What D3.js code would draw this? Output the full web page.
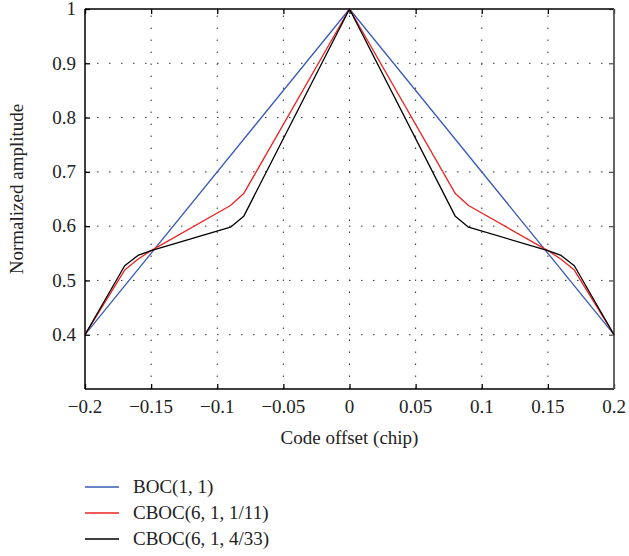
<!DOCTYPE html>
<html><head><meta charset="utf-8">
<script src="https://cdn.jsdelivr.net/npm/d3@7"></script>
<style>body{margin:0;background:#fff}svg{display:block}
text{font-family:"Liberation Serif","Times New Roman","DejaVu Serif",serif;}</style>
</head><body><svg id="c" width="629" height="556"></svg>
<script>
const xTicks = [-0.2, -0.15, -0.1, -0.05, 0, 0.05, 0.1, 0.15, 0.2];
const xTickLabels = ["\u22120.2", "\u22120.15", "\u22120.1", "\u22120.05", "0", "0.05", "0.1", "0.15", "0.2"];
const yTicks = [0.4, 0.5, 0.6, 0.7, 0.8, 0.9, 1];
const yTickLabels = ["0.4", "0.5", "0.6", "0.7", "0.8", "0.9", "1"];

const bocX = [-0.2, 0, 0.2];
const bocY = [0.4, 1, 0.4];
const cboc11X = [-0.2, -0.17, -0.16, -0.15, -0.09, -0.08, 0, 0.08, 0.09, 0.15, 0.16, 0.17, 0.2];
const cboc11Y = [0.4, 0.519, 0.539, 0.555, 0.638, 0.66, 1, 0.66, 0.638, 0.555, 0.539, 0.519, 0.4];
const cboc33X = [-0.2, -0.17, -0.16, -0.15, -0.09, -0.08, 0, 0.08, 0.09, 0.15, 0.16, 0.17, 0.2];
const cboc33Y = [0.4, 0.527, 0.546, 0.555, 0.598, 0.618, 1, 0.618, 0.598, 0.555, 0.546, 0.527, 0.4];

const seriesNames = ["BOC(1, 1)", "CBOC(6, 1, 1/11)", "CBOC(6, 1, 4/33)"];
const seriesColors = ["#3a5bb5", "#ee2222", "#000000"];

const svg = d3.select("#c");
const m = {l: 85, r: 15, t: 9, b: 167};
const W = 629, H = 556;
const x = d3.scaleLinear().domain([-0.2, 0.2]).range([m.l, W - m.r]);
const y = d3.scaleLinear().domain([0.3, 1]).range([H - m.b, m.t]);
const fs = 19;

// grid
const g = svg.append("g");
g.selectAll(".gx").data(xTicks.slice(1, -1)).enter().append("line")
  .attr("x1", d => x(d)).attr("x2", d => x(d)).attr("y1", y(0.3)).attr("y2", y(1))
  .attr("stroke", "#333").attr("stroke-width", 1).attr("stroke-dasharray", "1.5,10.5");
g.selectAll(".gy").data(yTicks.slice(0, -1)).enter().append("line")
  .attr("x1", x(-0.2)).attr("x2", x(0.2)).attr("y1", d => y(d)).attr("y2", d => y(d))
  .attr("stroke", "#333").attr("stroke-width", 1).attr("stroke-dasharray", "1.5,10.5");

// axes with inward ticks
const xAxisB = d3.axisBottom(x).tickValues(xTicks).tickSize(-5).tickFormat("");
const xAxisT = d3.axisTop(x).tickValues(xTicks).tickSize(-5).tickFormat("");
const yAxisL = d3.axisLeft(y).tickValues(yTicks).tickSize(-5).tickFormat("");
const yAxisR = d3.axisRight(y).tickValues(yTicks).tickSize(-5).tickFormat("");
function style(sel, col) { sel.selectAll("path,line").attr("stroke", col).attr("stroke-width", 1.3); sel.select(".domain").remove(); }
svg.append("g").attr("transform", `translate(0,${y(0.3)})`).call(xAxisB).call(s => style(s, "#000"));
svg.append("g").attr("transform", `translate(0,${y(1)})`).call(xAxisT).call(s => style(s, "#000"));
svg.append("g").attr("transform", `translate(${x(-0.2)},0)`).call(yAxisL).call(s => style(s, "#000"));
svg.append("g").attr("transform", `translate(${x(0.2)},0)`).call(yAxisR).call(s => style(s, "#555"));

// frame
svg.append("line").attr("x1", x(-0.2)).attr("x2", x(0.2)).attr("y1", y(1)).attr("y2", y(1)).attr("stroke", "#000").attr("stroke-width", 1.5);
svg.append("line").attr("x1", x(-0.2)).attr("x2", x(0.2)).attr("y1", y(0.3)).attr("y2", y(0.3)).attr("stroke", "#000").attr("stroke-width", 1.5);
svg.append("line").attr("x1", x(-0.2)).attr("x2", x(-0.2)).attr("y1", y(0.3)).attr("y2", y(1)).attr("stroke", "#000").attr("stroke-width", 1.5);
svg.append("line").attr("x1", x(0.2)).attr("x2", x(0.2)).attr("y1", y(0.3)).attr("y2", y(1)).attr("stroke", "#555").attr("stroke-width", 1.8);

// tick labels
svg.selectAll(".xl").data(xTicks).enter().append("text")
  .attr("x", d => x(d)).attr("y", 413).attr("text-anchor", "middle")
  .attr("font-size", fs).attr("fill", "#222")
  .text((d, i) => xTickLabels[i]);
svg.selectAll(".yl").data(yTicks).enter().append("text")
  .attr("x", 76).attr("y", d => y(d)).attr("dy", "0.33em").attr("text-anchor", "end")
  .attr("font-size", fs).attr("fill", "#222")
  .text((d, i) => yTickLabels[i]);

// axis titles
svg.append("text").attr("x", x(0)).attr("y", 444).attr("text-anchor", "middle")
  .attr("font-size", fs).attr("fill", "#222").text("Code offset (chip)");
svg.append("text").attr("transform", `translate(23,189) rotate(-90)`).attr("text-anchor", "middle")
  .attr("font-size", fs).attr("fill", "#222").text("Normalized amplitude");

// series
const line = d3.line().x(d => x(d[0])).y(d => y(d[1]));
const data = [
  d3.zip(bocX, bocY),
  d3.zip(cboc11X, cboc11Y),
  d3.zip(cboc33X, cboc33Y)
];
data.forEach((d, i) => {
  svg.append("path").datum(d).attr("d", line).attr("fill", "none")
    .attr("stroke", seriesColors[i]).attr("stroke-width", 1.3).attr("stroke-linejoin", "round");
});

// legend
const ly = [487, 513, 539];
seriesNames.forEach((n, i) => {
  svg.append("line").attr("x1", 85).attr("x2", 119).attr("y1", ly[i]).attr("y2", ly[i])
    .attr("stroke", seriesColors[i]).attr("stroke-width", 1.3);
  svg.append("text").attr("x", 133).attr("y", ly[i]).attr("dy", "0.33em")
    .attr("font-size", fs).attr("fill", "#222").text(n);
});
</script></body></html>
